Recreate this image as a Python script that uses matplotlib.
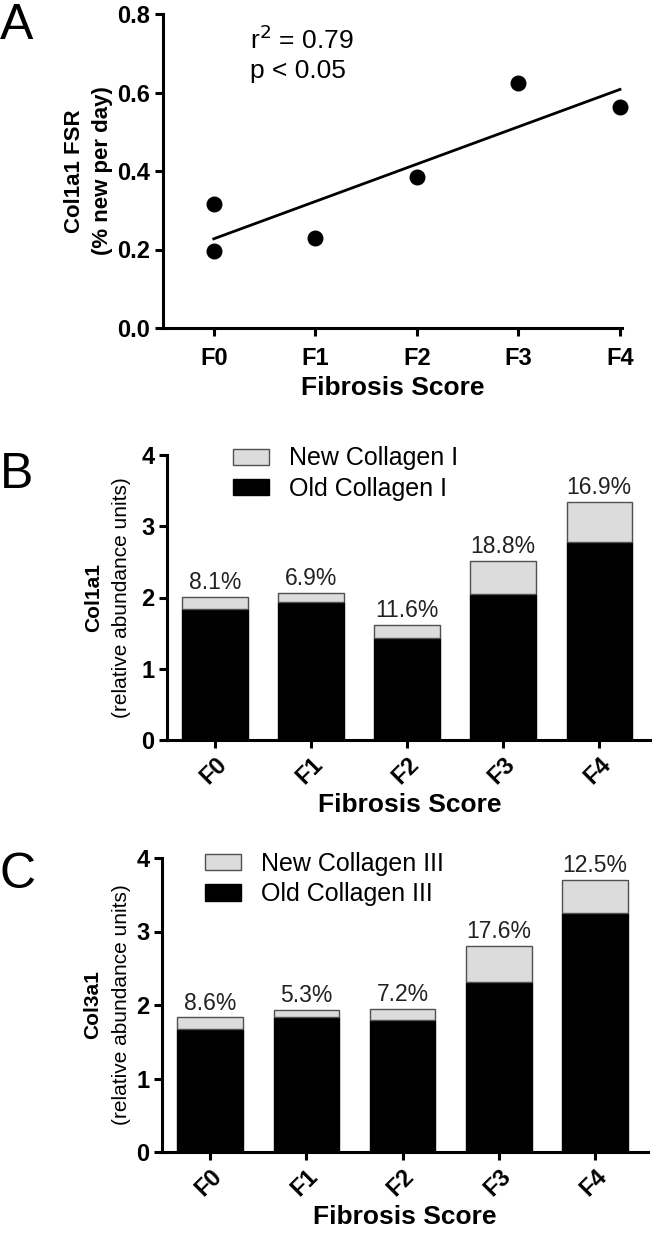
import numpy as np
import matplotlib
matplotlib.use("Agg")
import matplotlib.pyplot as plt
from matplotlib.patches import Patch

plt.rcParams['font.family'] = ['Liberation Sans', 'DejaVu Sans']

scores = ["F0", "F1", "F2", "F3", "F4"]

# A: Col1a1 FSR per biopsy
fsr_x = [0, 0, 1, 2, 3, 4]
fsr_y = [0.315, 0.197, 0.230, 0.385, 0.625, 0.563]

# B: Col1a1 old / total abundance
col1_old = [1.84, 1.93, 1.43, 2.05, 2.78]
col1_total = [2.01, 2.07, 1.62, 2.51, 3.34]
col1_pct = ["8.1%", "6.9%", "11.6%", "18.8%", "16.9%"]

# C: Col3a1 old / total abundance
col3_old = [1.67, 1.84, 1.80, 2.31, 3.25]
col3_total = [1.83, 1.93, 1.94, 2.80, 3.70]
col3_pct = ["8.6%", "5.3%", "7.2%", "17.6%", "12.5%"]

W, H = 652, 1233
fig = plt.figure(figsize=(W / 100, H / 100), dpi=100)


def box(l, r, t, b):
    return [l / W, 1 - b / H, (r - l) / W, (b - t) / H]


def style(ax):
    for s in ["top", "right"]:
        ax.spines[s].set_visible(False)
    for s in ["left", "bottom"]:
        ax.spines[s].set_linewidth(2.2)
    ax.tick_params(direction="out", length=6, width=2.2, labelsize=17, pad=3)
    for lab in ax.get_xticklabels() + ax.get_yticklabels():
        lab.set_fontweight("bold")


# ---- panel A
ax1 = fig.add_axes(box(163, 622, 14, 328))
ax1.scatter(fsr_x, fsr_y, s=110, color="black", zorder=3, clip_on=False)
slope, icpt = np.polyfit(fsr_x, fsr_y, 1)
xx = np.array([0, 4])
ax1.plot(xx, slope * xx + icpt, color="black", lw=2)
ax1.set_xlim(-0.5, 4.02)
ax1.set_ylim(0, 0.8)
ax1.set_yticks([0, 0.2, 0.4, 0.6, 0.8])
ax1.set_yticklabels(["0.0", "0.2", "0.4", "0.6", "0.8"])
ax1.set_xticks(range(5))
ax1.set_xticklabels(scores)
style(ax1)
ax1.tick_params(axis="x", pad=8)
ax1.set_xlabel("Fibrosis Score", fontsize=19, fontweight="bold", labelpad=4)
ax1.text(-0.192, 0.5, "Col1a1 FSR", rotation=90, transform=ax1.transAxes,
         ha="center", va="center", fontsize=16, fontweight="bold")
ax1.text(-0.131, 0.5, "(% new per day)", rotation=90, transform=ax1.transAxes,
         ha="center", va="center", fontsize=16, fontweight="bold")
ax1.text(0.36, 0.735, r"r$^2$ = 0.79", fontsize=19, va="center")
ax1.text(0.36, 0.655, "p < 0.05", fontsize=19, va="center")


def stacked(ax, old, total, pct, name, ylab, lx):
    new = np.array(total) - np.array(old)
    x = np.arange(len(scores))
    ax.bar(x, old, width=0.68, color="black", edgecolor="black", lw=1)
    ax.bar(x, new, bottom=old, width=0.68, color="#dcdcdc", edgecolor="#505050", lw=1)
    for i in range(len(scores)):
        ax.text(x[i], total[i] + 0.04, pct[i], ha="center", va="bottom",
                fontsize=16.5, color="#222222")
    ax.set_xlim(-0.5, 4.55)
    ax.set_ylim(0, 4)
    ax.set_yticks([0, 1, 2, 3, 4])
    ax.set_xticks(x)
    ax.set_xticklabels(scores, rotation=45, ha="right", rotation_mode="anchor")
    style(ax)
    ax.tick_params(axis="x", pad=3)
    ax.set_xlabel("Fibrosis Score", fontsize=19, fontweight="bold", labelpad=3)
    ax.text(lx[0], 0.5, ylab, rotation=90, transform=ax.transAxes, ha="center",
            va="center", fontsize=15, fontweight="bold")
    ax.text(lx[1], 0.5, "(relative abundance units)", rotation=90, transform=ax.transAxes,
            ha="center", va="center", fontsize=15)
    handles = [Patch(facecolor="#dcdcdc", edgecolor="#505050", lw=1),
               Patch(facecolor="black", edgecolor="black")]
    return handles, ["New Collagen " + name, "Old Collagen " + name]


leg_kw = dict(loc="upper left", frameon=False, fontsize=18, handlelength=1.45,
              handleheight=0.62, handletextpad=0.8, labelspacing=0.25,
              borderpad=0, borderaxespad=0)

# ---- panel B
ax2 = fig.add_axes(box(167, 652, 455, 740))
h, l = stacked(ax2, col1_old, col1_total, col1_pct, "I", "Col1a1", (-0.152, -0.093))
ax2.legend(h, l, bbox_to_anchor=(0.136, 1.03), **leg_kw)

# ---- panel C
ax3 = fig.add_axes(box(162, 648, 858, 1152))
h, l = stacked(ax3, col3_old, col3_total, col3_pct, "III", "Col3a1", (-0.142, -0.084))
ax3.legend(h, l, bbox_to_anchor=(0.088, 1.02), **leg_kw)

for letter, y in [("A", 3), ("B", 452), ("C", 852)]:
    fig.text(0.0, 1 - y / H, letter, fontsize=36, va="top", ha="left")

fig.savefig("out.png", dpi=100)
